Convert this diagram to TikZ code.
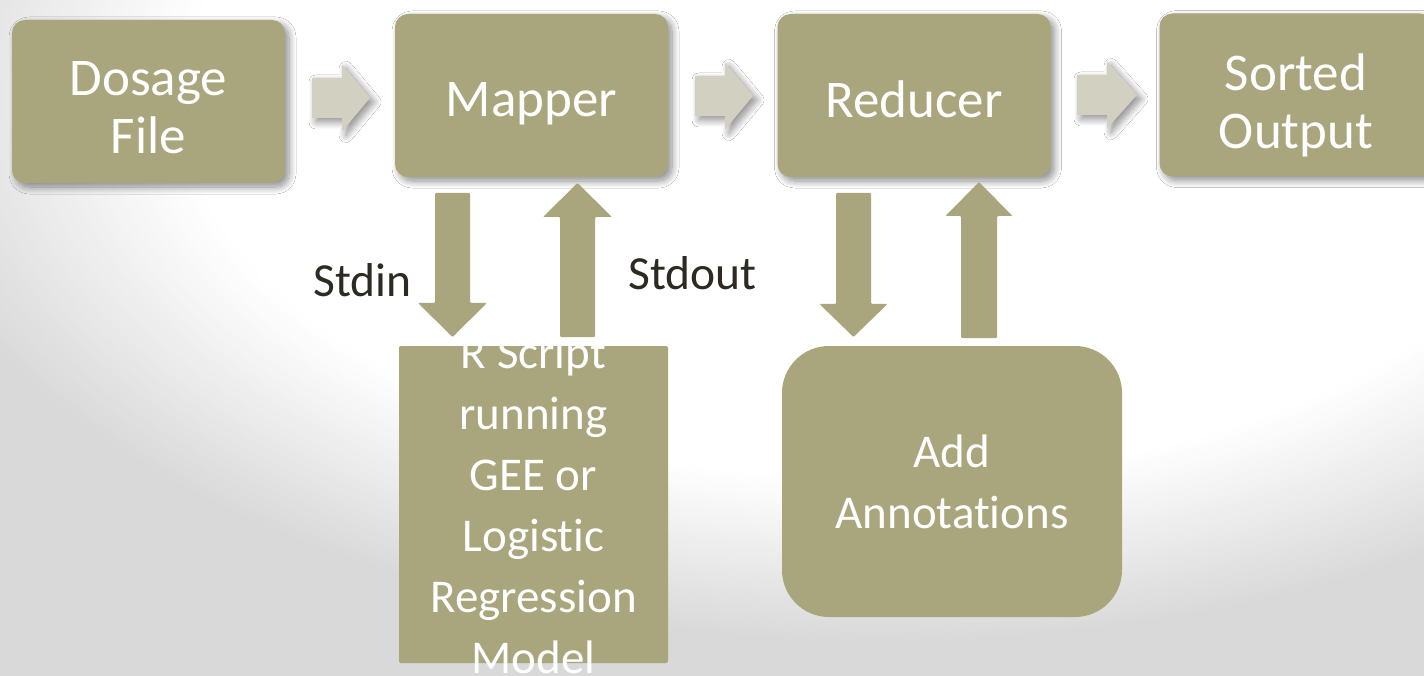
\documentclass[tikz,border=0pt]{standalone}
\usepackage{fontspec}
\setmainfont{Carlito}[Ligatures=NoCommon]
\usetikzlibrary{shadows.blur}
\definecolor{olive}{HTML}{A9A57C}
\definecolor{pale}{HTML}{D2D1C1}
\definecolor{bggray}{HTML}{D9D9D9}
\definecolor{ink}{HTML}{2D2A22}
\begin{document}
\begin{tikzpicture}[x=1pt,y=-1pt,
  softshadow/.style={blur shadow={shadow xshift=4pt, shadow yshift=-4pt, shadow blur radius=7pt, shadow blur steps=10, shadow opacity=45}},
  topbox/.style={rectangle, rounded corners=13pt, fill=olive, minimum width=273pt, minimum height=163pt, inner sep=0pt, softshadow},
  toptext/.style={text=white, align=center, inner sep=0pt, font=\fontsize{53}{58}\selectfont},
  flow/.style={fill=pale, softshadow},
  vflow/.style={fill=olive, rounded corners=1pt},
  lowtext/.style={text=white, align=center, inner sep=0pt, font=\fontsize{47}{61}\selectfont},
  lbl/.style={text=ink, inner sep=0pt, font=\fontsize{47.5}{55}\selectfont}]

% page with a soft white glow over a grey ground
\useasboundingbox (0,0) rectangle (1424,676);
\fill[bggray] (0,0) rectangle (1424,676);
\begin{scope}
  \clip (0,0) rectangle (1424,676);
  \foreach \k in {0,...,60}{
    \pgfmathsetmacro\r{1-0.3*\k/60}
    \pgfmathsetmacro\w{100*\k/60}
    \fill[white!\w!bggray] (880,100) ellipse [x radius=\r*1000pt, y radius=\r*543pt];
  }
\end{scope}

% pipeline boxes
\node[topbox] (dosage)  at (148.5,101.5) {};
\node[topbox] (mapper)  at (531.5,95.5)  {};
\node[topbox] (reducer) at (914,95.5)    {};
\node[topbox] (sorted)  at (1296,95)     {};
\node[toptext, yshift=-6pt]  (dosagetext)  at (dosage.center)  {Dosage\\File};
\node[toptext, yshift=-8pt]  (mappertext)  at (mapper.center)  {Mapper};
\node[toptext, yshift=-4pt]  (reducertext) at (reducer.center) {Reducer};
\node[toptext, yshift=-10pt] (sortedtext)  at (sorted.center)  {Sorted\\Output};

% block arrows between the stages
\path[flow] (312,78) -- (342,78) -- (342,64.5) -- (370,98) -- (342,131.5) -- (342,118) -- (312,118) -- cycle;
\path[flow] (695,76) -- (725,76) -- (725,62.5) -- (753,96) -- (725,129.5) -- (725,116) -- (695,116) -- cycle;
\path[flow] (1077,75) -- (1107,75) -- (1107,61.5) -- (1137,95) -- (1107,128.5) -- (1107,115) -- (1077,115) -- cycle;

% worker boxes
\node[rectangle, rounded corners=2pt, fill=olive, minimum width=269pt, minimum height=317pt, inner sep=0pt] (rscript) at (533.5,504.5) {};
\node[lowtext] (rscripttext) at (rscript.center) {R Script\\running\\GEE or\\Logistic\\Regression\\Model};
\node[rectangle, rounded corners=47pt, fill=olive, minimum width=340pt, minimum height=271pt, inner sep=0pt] (annot) at (952,481.5) {};
\node[lowtext] (annottext) at (annot.center) {Add\\Annotations};

% stream arrows: into and out of each worker
\path[vflow] (435,193) -- (470,193) -- (470,303) -- (487,303) -- (452.5,337) -- (418,303) -- (435,303) -- cycle;
\path[vflow] (560,337) -- (595,337) -- (595,217) -- (612,217) -- (577.5,183) -- (543,217) -- (560,217) -- cycle;
\path[vflow] (836,193) -- (871,193) -- (871,304) -- (887.5,304) -- (853.5,337) -- (819.5,304) -- (836,304) -- cycle;
\path[vflow] (961,338) -- (997,338) -- (997,216) -- (1012.5,216) -- (979,182) -- (945.5,216) -- (961,216) -- cycle;

% stream labels
\node[lbl, anchor=base west] (stdin)  at (313,297) {Stdin};
\node[lbl, anchor=base west] (stdout) at (628,290) {Stdout};
\end{tikzpicture}
\end{document}
